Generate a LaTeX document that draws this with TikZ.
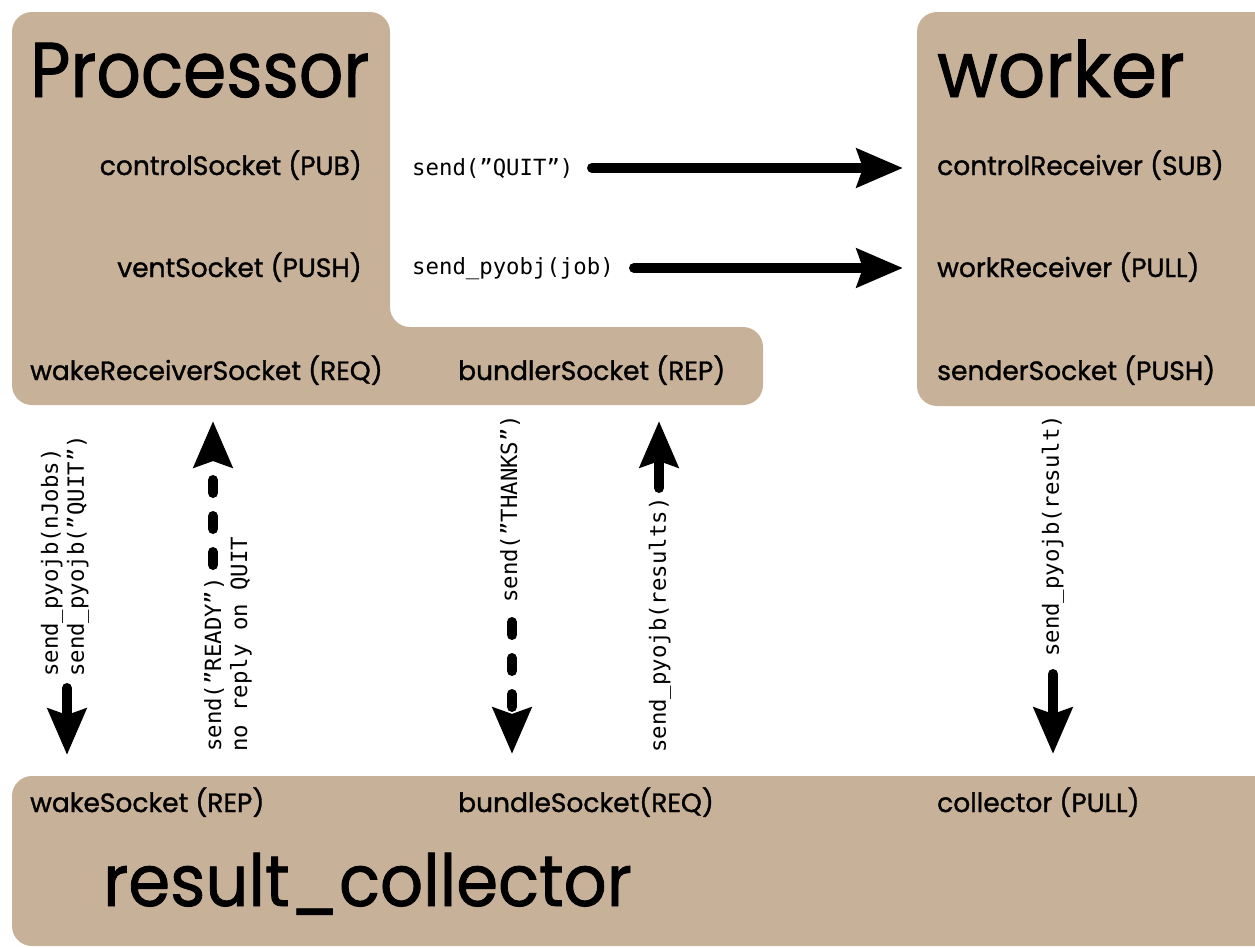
\documentclass[tikz,border=0pt]{standalone}
\usepackage{fontspec}
\usepackage{graphicx}
\setmainfont{Poppins}[FakeBold=1.2]
\newfontfamily\codefont{DejaVu Sans Mono}
\usetikzlibrary{arrows.meta}
\definecolor{boxtan}{RGB}{199,177,152}
\begin{document}
\begin{tikzpicture}[x=1bp,y=-1bp,
  panel/.style={fill=boxtan, rounded corners=20bp},
  title/.style={font=\fontsize{78}{80}\selectfont, inner sep=0pt, anchor=base west},
  sock/.style={font=\fontsize{26.6}{30}\selectfont, inner sep=0pt},
  code/.style={font=\codefont\fontsize{22.4}{26}\selectfont, inner sep=0pt},
  vcode/.style={code, rotate=90, anchor=west, align=left},
  flow/.style={line width=10bp, line cap=round, -{Stealth[length=46bp,width=38bp,inset=6bp]}},
  flowdash/.style={flow, dash pattern=on 13bp off 23bp},
]
\useasboundingbox (0,0) rectangle (1255,948);

% panels
\fill[panel] (12,12) -- (390,12) -- (390,327) -- (763,327) -- (763,405) -- (12,405) -- cycle;
\fill[panel] (917,12) rectangle (1275,406);
\fill[panel] (12,776) rectangle (1275,946);

% titles
\node[title] (proc) at (30,97) {\scalebox{0.895}[1]{Processor}};
\node[title] (work) at (937,97) {\scalebox{0.953}[1]{worker}};
\node[title, font=\fontsize{72}{76}\selectfont] (rc) at (103,906) {\scalebox{0.94}[1]{result\_collector}};

% processor sockets
\node[sock, anchor=base east] (ctrl) at (362,175) {controlSocket (PUB)};
\node[sock, anchor=base east] (vent) at (362,277) {ventSocket (PUSH)};
\node[sock, anchor=base west] (wakerecv) at (30,380) {wakeReceiverSocket (REQ)};
\node[sock, anchor=base west] (bundler) at (458,380) {bundlerSocket (REP)};

% worker sockets
\node[sock, anchor=base west] (ctrlrecv) at (937,175) {controlReceiver (SUB)};
\node[sock, anchor=base west] (workrecv) at (937,277) {workReceiver (PULL)};
\node[sock, anchor=base west] (sender) at (937,380) {senderSocket (PUSH)};

% collector sockets
\node[sock, anchor=base west] (wake) at (30,812) {wakeSocket (REP)};
\node[sock, anchor=base west] (bundle) at (458,812) {bundleSocket(REQ)};
\node[sock, anchor=base west] (collect) at (937,812) {collector (PULL)};

% horizontal messages
\node[code, anchor=west] (mquit) at (412,168) {send(”QUIT”)};
\node[code, anchor=west] (mjob) at (412,269) {send\_pyobj(job)};
\coordinate (hq1) at (592,168); \coordinate (hq2) at (903,168);
\coordinate (hj1) at (634,268); \coordinate (hj2) at (903,268);
\draw[flow] (hq1) -- (hq2);
\draw[flow] (hj1) -- (hj2);

% vertical messages
\node[vcode] (m1) at (65,677) {send\_pyojb(nJobs)\\send\_pyojb(”QUIT”)};
\node[vcode] (m2) at (228,752) {send(”READY”)\\no reply on QUIT};
\node[vcode] (m3) at (510,603) {send(”THANKS”)};
\node[vcode] (m4) at (660,753) {send\_pyojb(results)};
\node[vcode] (m5) at (1053,657) {send\_pyojb(result)};

\coordinate (v1a) at (67,688);   \coordinate (v1b) at (67,755);
\coordinate (v2a) at (213,565);  \coordinate (v2b) at (213,421);
\coordinate (v3a) at (512,622);  \coordinate (v3b) at (512,754);
\coordinate (v4a) at (659,488);  \coordinate (v4b) at (659,421);
\coordinate (v5a) at (1053,674); \coordinate (v5b) at (1053,754);
\draw[flow] (v1a) -- (v1b);
\draw[flowdash] (v2a) -- (v2b);
\draw[flowdash] (v3a) -- (v3b);
\draw[flow] (v4a) -- (v4b);
\draw[flow] (v5a) -- (v5b);
\end{tikzpicture}
\end{document}
